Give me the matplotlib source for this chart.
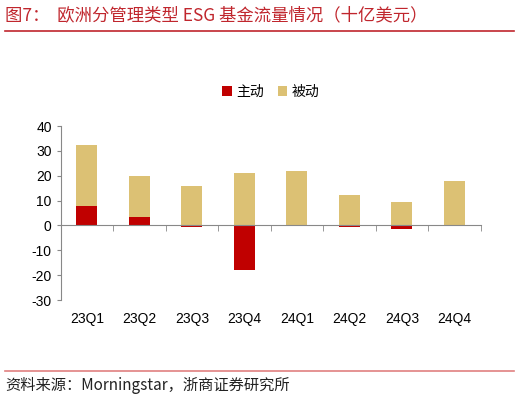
import matplotlib.pyplot as plt
import numpy as np

quarters = ['23Q1', '23Q2', '23Q3', '23Q4', '24Q1', '24Q2', '24Q3', '24Q4']
active = [8.0, 3.5, -0.5, -17.9, 0.1, -0.6, -1.5, 0.2]
passive = [24.4, 16.5, 15.8, 21.3, 21.9, 12.3, 9.5, 17.8]
yticks = [-30, -20, -10, 0, 10, 20, 30, 40]

RED = '#C00000'
TAN = '#DCC174'


def main():
    plt.rcParams['font.family'] = ['Liberation Sans', 'Noto Sans CJK SC', 'DejaVu Sans']
    plt.rcParams['axes.unicode_minus'] = False
    fig = plt.figure(figsize=(5.2, 4.04), dpi=100)
    ax = fig.add_axes([0.1167, 0.2574, 0.8077, 0.4306])

    x = np.arange(len(quarters))
    act = np.array(active)
    pas = np.array(passive)
    # passive sits on top of positive active flows, otherwise starts at 0
    base = np.where(act > 0, act, 0)
    ax.bar(x, act, width=0.4, color=RED, label='主动', zorder=2)
    ax.bar(x, pas, width=0.4, bottom=base, color=TAN, label='被动', zorder=2)

    ax.set_xlim(-0.5, len(quarters) - 0.5)
    ax.set_ylim(-30, 40)
    ax.set_yticks(yticks)
    for s in ['top', 'right']:
        ax.spines[s].set_visible(False)
    ax.spines['bottom'].set_position(('data', 0))
    ax.spines['bottom'].set_color('#888888')
    ax.spines['left'].set_color('#888888')
    ax.spines['bottom'].set_zorder(3)

    ax.set_xticks(x)
    ax.set_xticklabels(quarters)
    ax.set_xticks(np.arange(len(quarters) + 1) - 0.5, minor=True)
    ax.tick_params(axis='x', which='major', length=0, pad=62, labelsize=10)
    ax.tick_params(axis='x', which='minor', length=4, color='#888888', direction='out')
    ax.tick_params(axis='y', length=3, color='#888888', labelsize=10)

    ax.legend(loc='upper center', bbox_to_anchor=(0.5, 1.31), ncol=2, frameon=False,
              fontsize=10, handlelength=0.7, handleheight=0.7, handletextpad=0.3,
              columnspacing=1.0)

    fig.text(0.01, 0.962, '图7：  欧洲分管理类型 ESG 基金流量情况（十亿美元）',
             fontsize=12.5, color='#C0262D', va='center',
             family=['Noto Sans CJK SC', 'DejaVu Sans'])
    fig.add_artist(plt.Line2D([0.01, 0.988], [0.923, 0.923], color='#C0262D', lw=1.2))
    fig.add_artist(plt.Line2D([0.01, 0.988], [0.081, 0.081], color='#E08080', lw=1.2))
    fig.text(0.01, 0.045, '资料来源：Morningstar，浙商证券研究所', fontsize=11,
             color='#222222', va='center', family=['Noto Sans CJK SC', 'DejaVu Sans'])

    fig.savefig('out.png', dpi=100)


if __name__ == '__main__':
    main()
